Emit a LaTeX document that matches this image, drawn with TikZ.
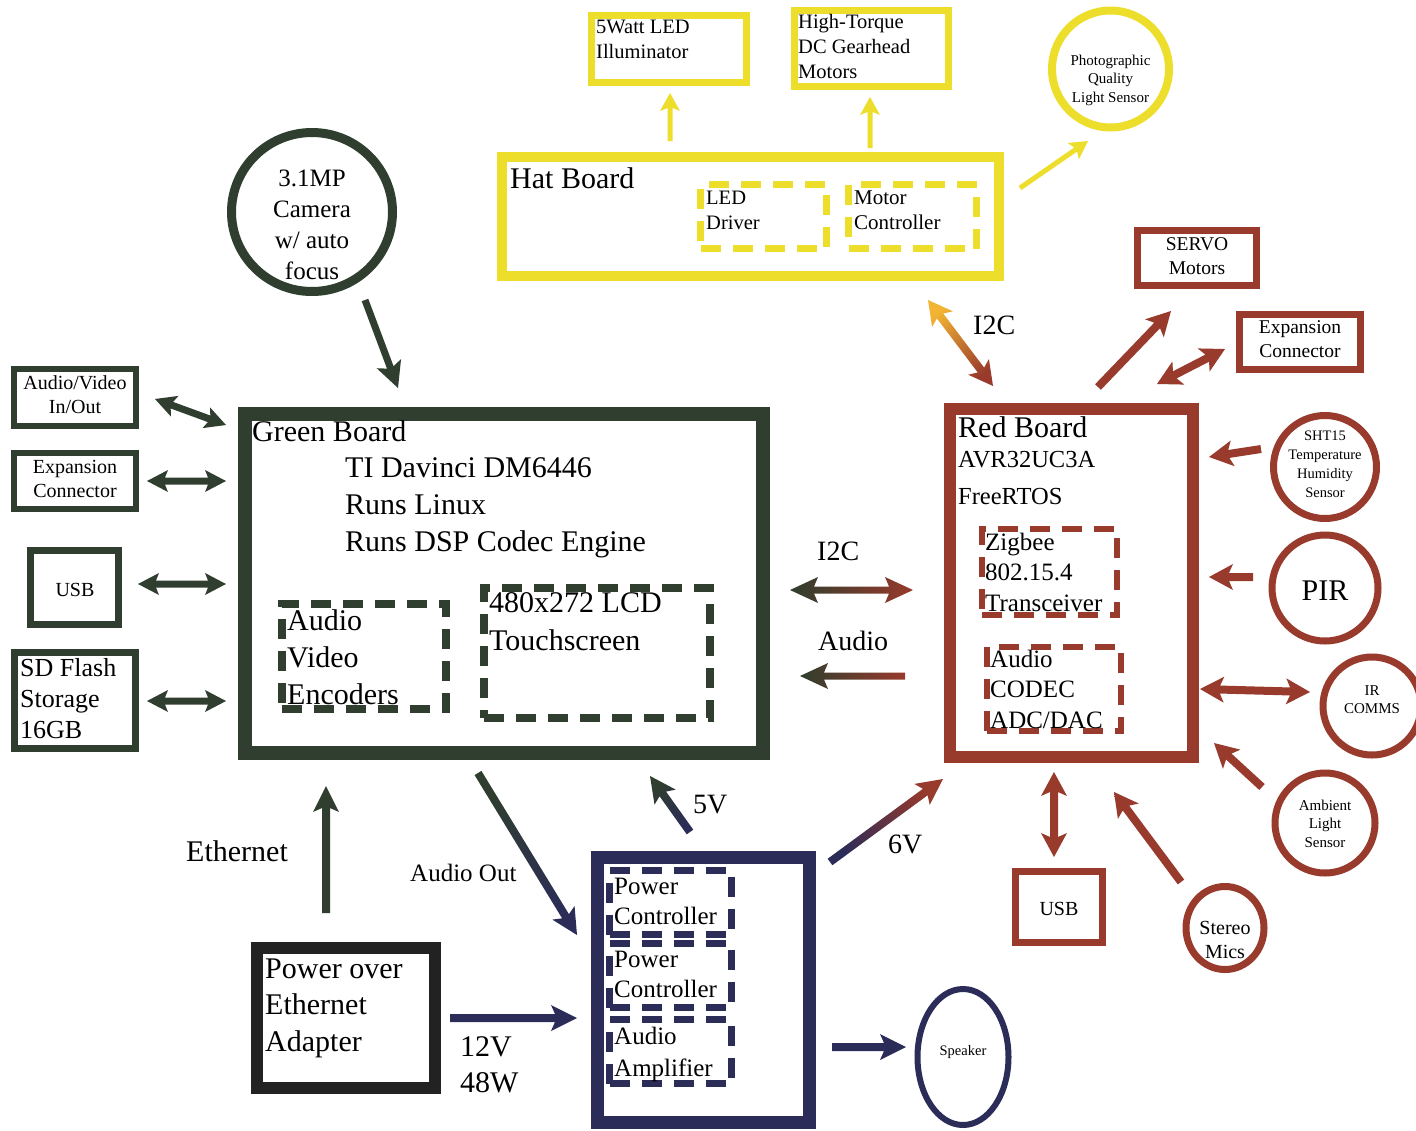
\documentclass[tikz,border=0pt]{standalone}
\usepackage{fontspec}
\setmainfont{Liberation Serif}
\usetikzlibrary{calc,shapes.geometric}

\definecolor{gcol}{RGB}{47,62,46}
\definecolor{ycol}{RGB}{238,222,44}
\definecolor{rcol}{RGB}{152,58,44}
\definecolor{ncol}{RGB}{44,44,88}
\definecolor{kcol}{RGB}{34,34,34}
\definecolor{ocol}{RGB}{242,180,50}

\newcommand\fs[2]{\fontsize{#1}{#2}\selectfont}
% arrow dimensions: half shaft width, half head width, head length (barbs), head length (join)
\newcommand\arrdims[4]{\def\aw{#1}\def\ah{#2}\def\al{#3}\def\aj{#4}}
% single-headed filled arrow from #1 to #2, gradient #3 -> #4, shading angle #5
\newcommand\sarr[5]{%
  \coordinate (tipb) at ($(#2)!\al!(#1)$);
  \coordinate (tipj) at ($(#2)!\aj!(#1)$);
  \shade[top color=#3, bottom color=#4, shading angle=#5]
    ($(#1)!\aw!90:(#2)$) -- ($(tipj)!\aw!90:(#2)$) -- ($(tipb)!\ah!90:(#2)$) -- (#2)
    -- ($(tipb)!\ah!-90:(#2)$) -- ($(tipj)!\aw!-90:(#2)$) -- ($(#1)!\aw!-90:(#2)$) -- cycle;}
% double-headed filled arrow
\newcommand\darr[5]{%
  \coordinate (tipa) at ($(#1)!\al!(#2)$);
  \coordinate (tipi) at ($(#1)!\aj!(#2)$);
  \coordinate (tipb) at ($(#2)!\al!(#1)$);
  \coordinate (tipj) at ($(#2)!\aj!(#1)$);
  \shade[top color=#3, bottom color=#4, shading angle=#5]
    (#1) -- ($(tipa)!\ah!90:(#2)$) -- ($(tipi)!\aw!90:(#2)$) -- ($(tipj)!\aw!90:(#2)$)
    -- ($(tipb)!\ah!90:(#2)$) -- (#2) -- ($(tipb)!\ah!-90:(#2)$) -- ($(tipj)!\aw!-90:(#2)$)
    -- ($(tipi)!\aw!-90:(#2)$) -- ($(tipa)!\ah!-90:(#2)$) -- cycle;}

% multi-line text nodes: anchor 'base' is the baseline of the LAST line
\tikzset{
  box/.style={draw, inner sep=0pt, outer sep=0pt, anchor=north west},
  dbox/.style={box, dash pattern=on 20pt off 12pt},
  txt/.style={inner sep=0pt, anchor=base west, align=left},
  ctxt/.style={inner sep=0pt, anchor=base, align=center},
  rnd/.style={draw, inner sep=0pt, outer sep=0pt},
}

\begin{document}
\begin{tikzpicture}[x=1pt,y=-1pt]
\useasboundingbox (0,0) rectangle (1416,1130);
\fill[white] (0,0) rectangle (1416,1130);

%================ Hat board (yellow)
\node[box, ycol, line width=10pt, minimum width=497pt, minimum height=119pt] (hat) at (502,157) {};
\node[txt, font=\fs{30}{36}] (hatT) at (510,188) {Hat Board};
\node[dbox, ycol, line width=7pt, minimum width=126pt, minimum height=64pt] (led) at (700.5,184.5) {};
\node[txt, font=\fs{20.5}{25}] (ledT) at (706,229) {LED\\Driver};
\node[dbox, ycol, line width=7pt, minimum width=128pt, minimum height=64pt] (mot) at (848.5,184.5) {};
\node[txt, font=\fs{21}{25}] (motT) at (854,229) {Motor\\Controller};

\node[box, ycol, line width=7pt, minimum width=155pt, minimum height=67pt] (illum) at (591.5,15.5) {};
\node[txt, font=\fs{20.5}{25}] (illumT) at (596,58) {5Watt LED\\Illuminator};
\node[box, ycol, line width=7pt, minimum width=154pt, minimum height=76pt] (gear) at (794.5,10.5) {};
\node[txt, font=\fs{20.5}{25}] (gearT) at (798,78) {High-Torque\\DC Gearhead\\Motors};
\node[circle, rnd, ycol, line width=8pt, minimum size=117pt] (photo) at (1110.5,69) {};
\node[ctxt, font=\fs{15}{18.5}] (photoT) at (1110.5,102) {Photographic\\Quality\\Light Sensor};

\arrdims{2.5pt}{10pt}{18pt}{15pt}
\coordinate (ya1s) at (670,141); \coordinate (ya1e) at (670,93);
\coordinate (ya2s) at (870,148); \coordinate (ya2e) at (870,97);
\coordinate (ya3s) at (1020,188); \coordinate (ya3e) at (1088,141);
\sarr{ya1s}{ya1e}{ycol}{ycol}{0}
\sarr{ya2s}{ya2e}{ycol}{ycol}{0}
\sarr{ya3s}{ya3e}{ycol}{ycol}{0}

%================ Camera
\node[ellipse, rnd, gcol, line width=9pt, minimum width=161pt, minimum height=159pt] (cam) at (312,212) {};
\node[ctxt, font=\fs{25}{31}] (camT) at (312,279) {3.1MP\\Camera\\w/ auto\\focus};
\arrdims{3.5pt}{13pt}{26pt}{22pt}
\coordinate (cas) at (365,300); \coordinate (cae) at (398,388);
\sarr{cas}{cae}{gcol}{gcol}{0}

%================ Green board
\node[box, gcol, line width=14pt, minimum width=518pt, minimum height=339pt] (green) at (245,414) {};
\node[txt, font=\fs{30}{37}] (greenT) at (252,441) {Green Board};
\node[txt, font=\fs{30}{37}] (greenT2) at (345,551) {TI Davinci DM6446\\Runs Linux\\Runs DSP Codec Engine};
\node[dbox, gcol, line width=8pt, minimum width=164pt, minimum height=105pt] (enc) at (282,604) {};
\node[txt, font=\fs{30}{37}] (encT) at (287,704) {Audio\\Video\\Encoders};
\node[dbox, gcol, line width=8pt, minimum width=226pt, minimum height=130pt] (lcd) at (484,588) {};
\node[txt, font=\fs{30}{38}] (lcdT) at (489,650) {480x272 LCD\\Touchscreen};

%================ Left peripherals
\node[box, gcol, line width=6pt, minimum width=122pt, minimum height=57pt] (av) at (14,369) {};
\node[ctxt, font=\fs{20}{24}] (avT) at (75,413) {Audio/Video\\In/Out};
\node[box, gcol, line width=6pt, minimum width=122pt, minimum height=56pt] (gexp) at (14,453) {};
\node[ctxt, font=\fs{20}{24}] (gexpT) at (75,497) {Expansion\\Connector};
\node[box, gcol, line width=7pt, minimum width=88pt, minimum height=74pt] (gusb) at (30.5,550.5) {};
\node[ctxt, font=\fs{20}{24}] (gusbT) at (75,596) {USB};
\node[box, gcol, line width=7pt, minimum width=121pt, minimum height=96pt] (sd) at (14.5,652.5) {};
\node[txt, font=\fs{26}{31}] (sdT) at (20,738) {SD Flash\\Storage\\16GB};

\arrdims{3.5pt}{11pt}{21pt}{18pt}
\coordinate (l1s) at (155,399); \coordinate (l1e) at (226,425);
\coordinate (l2s) at (147,481); \coordinate (l2e) at (226,481);
\coordinate (l3s) at (138,584); \coordinate (l3e) at (226,584);
\coordinate (l4s) at (147,701); \coordinate (l4e) at (226,701);
\darr{l1s}{l1e}{gcol}{gcol}{0}
\darr{l2s}{l2e}{gcol}{gcol}{0}
\darr{l3s}{l3e}{gcol}{gcol}{0}
\darr{l4s}{l4e}{gcol}{gcol}{0}

%================ Green <-> Red
\arrdims{3.5pt}{13pt}{28pt}{24pt}
\coordinate (i2cs) at (790,590); \coordinate (i2ce) at (913,590);
\coordinate (auds) at (905,676); \coordinate (aude) at (800,676);
\darr{i2cs}{i2ce}{gcol}{rcol}{90}
\sarr{auds}{aude}{rcol}{gcol}{270}
\node[txt, font=\fs{28}{34}] (i2cL) at (817,560) {I2C};
\node[txt, font=\fs{28}{34}] (audL) at (818,650) {Audio};

%================ Red board
\node[box, rcol, line width=12pt, minimum width=243pt, minimum height=348pt] (red) at (950,409) {};
\node[txt, font=\fs{30}{36}] (redT) at (958,437) {Red Board};
\node[txt, font=\fs{24.5}{37}] (redT2) at (958,504) {AVR32UC3A\\FreeRTOS};
\node[dbox, rcol, line width=6pt, minimum width=135pt, minimum height=86pt] (zig) at (982,529) {};
\node[txt, font=\fs{25}{30.5}] (zigT) at (985,611) {Zigbee\\802.15.4\\Transceiver};
\node[dbox, rcol, line width=6pt, minimum width=134pt, minimum height=84pt] (codec) at (987,647) {};
\node[txt, font=\fs{25}{30.5}] (codecT) at (990,728) {Audio\\CODEC\\ADC/DAC};

%================ Red peripherals
\node[box, rcol, line width=7pt, minimum width=119pt, minimum height=55pt] (servo) at (1137.5,230.5) {};
\node[ctxt, font=\fs{19.5}{24.5}] (servoT) at (1197,274.5) {SERVO\\Motors};
\node[box, rcol, line width=7pt, minimum width=121pt, minimum height=55pt] (rexp) at (1239.5,314.5) {};
\node[ctxt, font=\fs{19.5}{24.5}] (rexpT) at (1300,357.5) {Expansion\\Connector};
\node[circle, rnd, rcol, line width=7pt, minimum size=103pt] (sht) at (1325,467) {};
\node[ctxt, font=\fs{14.5}{18.7}] (shtT) at (1325,497) {SHT15\\Temperature\\Humidity\\Sensor};
\node[circle, rnd, rcol, line width=7pt, minimum size=106pt] (pir) at (1325,588) {};
\node[ctxt, font=\fs{30}{36}] (pirT) at (1325,600) {PIR};
\node[circle, rnd, rcol, line width=7pt, minimum size=98pt] (ir) at (1372,706) {};
\node[ctxt, font=\fs{15}{18.5}] (irT) at (1372,713.5) {IR\\COMMS};
\node[circle, rnd, rcol, line width=7pt, minimum size=100pt] (amb) at (1325,823) {};
\node[ctxt, font=\fs{15}{18.5}] (ambT) at (1325,847) {Ambient\\Light\\Sensor};
\node[ellipse, rnd, rcol, line width=7pt, minimum width=78pt, minimum height=83pt] (mics) at (1225,928) {};
\node[ctxt, font=\fs{20}{24}] (micsT) at (1225,958) {Stereo\\Mics};
\node[box, rcol, line width=7pt, minimum width=87pt, minimum height=71pt] (rusb) at (1015.5,871.5) {};
\node[ctxt, font=\fs{20}{24}] (rusbT) at (1059,915) {USB};

\arrdims{4pt}{13pt}{24pt}{20pt}
\coordinate (hi2cs) at (993,386); \coordinate (hi2ce) at (928,300);
\darr{hi2cs}{hi2ce}{rcol}{ocol}{217}
\node[txt, font=\fs{28}{34}] (hi2cL) at (973,334) {I2C};
\coordinate (svs) at (1098,387); \coordinate (sve) at (1171,311);
\sarr{svs}{sve}{rcol}{rcol}{0}
\coordinate (rxs) at (1157,384); \coordinate (rxe) at (1225,349);
\darr{rxs}{rxe}{rcol}{rcol}{0}
\coordinate (shs) at (1261,449); \coordinate (she) at (1209,457);
\sarr{shs}{she}{rcol}{rcol}{0}
\coordinate (pis) at (1253,577); \coordinate (pie) at (1209,577);
\sarr{pis}{pie}{rcol}{rcol}{0}
\coordinate (irs) at (1200,689); \coordinate (ire) at (1310,692);
\darr{irs}{ire}{rcol}{rcol}{0}
\coordinate (ams) at (1262,787); \coordinate (ame) at (1214,743);
\sarr{ams}{ame}{rcol}{rcol}{0}
\coordinate (mis) at (1181,882); \coordinate (mie) at (1114,792);
\sarr{mis}{mie}{rcol}{rcol}{0}
\coordinate (rus) at (1054,772); \coordinate (rue) at (1054,857);
\darr{rus}{rue}{rcol}{rcol}{0}

%================ Power / amplifier (navy)
\node[box, ncol, line width=13pt, minimum width=212pt, minimum height=265pt] (amp) at (597.5,857.5) {};
\node[dbox, ncol, line width=7pt, minimum width=122pt, minimum height=64pt] (pc1) at (609.5,870.5) {};
\node[dbox, ncol, line width=7pt, minimum width=122pt, minimum height=64pt] (pc2) at (609.5,943.5) {};
\node[dbox, ncol, line width=7pt, minimum width=122pt, minimum height=64pt] (aamp) at (609.5,1019.5) {};
\node[txt, font=\fs{25}{30}] (pc1T) at (614,924) {Power\\Controller};
\node[txt, font=\fs{25}{30}] (pc2T) at (614,997) {Power\\Controller};
\node[txt, font=\fs{25}{32}] (aampT) at (614,1076) {Audio\\Amplifier};

\node[ellipse, rnd, ncol, line width=6pt, minimum width=91pt, minimum height=136pt] (spk) at (963,1057) {};
\node[ctxt, font=\fs{14.5}{18}] (spkT) at (963,1055) {Speaker};

\node[box, kcol, line width=12pt, minimum width=178pt, minimum height=140pt] (poe) at (257,948) {};
\node[txt, font=\fs{30}{36.5}] (poeT) at (265,1051) {Power over\\Ethernet\\Adapter};

\arrdims{4pt}{13pt}{26pt}{22pt}
\coordinate (sps) at (832,1047); \coordinate (spe) at (906,1047);
\sarr{sps}{spe}{ncol}{ncol}{0}
\coordinate (v6s) at (830,862); \coordinate (v6e) at (943,779);
\sarr{v6s}{v6e}{ncol}{rcol}{126}
\coordinate (v5s) at (690,832); \coordinate (v5e) at (650,776);
\sarr{v5s}{v5e}{ncol}{gcol}{215}
\coordinate (aos) at (478,773); \coordinate (aoe) at (577,935);
\sarr{aos}{aoe}{gcol}{ncol}{31}
\coordinate (v12s) at (450,1018); \coordinate (v12e) at (577,1018);
\sarr{v12s}{v12e}{ncol}{ncol}{0}
\coordinate (eths) at (326,913); \coordinate (ethe) at (326,786);
\sarr{eths}{ethe}{gcol}{gcol}{0}

\node[txt, font=\fs{30}{36}] (ethL) at (186,861) {Ethernet};
\node[txt, font=\fs{25}{30}] (aoL) at (410,881) {Audio Out};
\node[txt, font=\fs{30}{36}] (v12L) at (460,1092) {12V\\48W};
\node[txt, font=\fs{28}{34}] (v5L) at (693,813) {5V};
\node[txt, font=\fs{28}{34}] (v6L) at (888,853) {6V};
\end{tikzpicture}
\end{document}
